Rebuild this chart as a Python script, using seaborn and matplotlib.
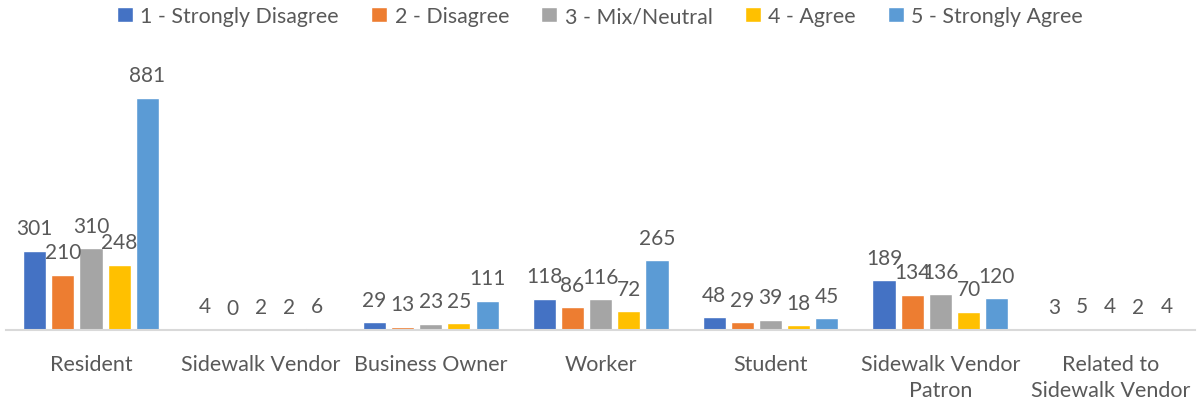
import matplotlib
matplotlib.use("Agg")
import matplotlib.pyplot as plt
import seaborn as sns
import pandas as pd

categories = ["Resident", "Sidewalk Vendor", "Business Owner", "Worker",
              "Student", "Sidewalk Vendor\nPatron", "Related to\nSidewalk Vendor"]
series = ["1 - Strongly Disagree", "2 - Disagree", "3 - Mix/Neutral",
          "4 - Agree", "5 - Strongly Agree"]
strongly_disagree = [301, 4, 29, 118, 48, 189, 3]
disagree = [210, 0, 13, 86, 29, 134, 5]
mix_neutral = [310, 2, 23, 116, 39, 136, 4]
agree = [248, 2, 25, 72, 18, 70, 2]
strongly_agree = [881, 6, 111, 265, 45, 120, 4]

colors = ["#4472C4", "#ED7D31", "#A5A5A5", "#FFC000", "#5B9BD5"]

values = [strongly_disagree, disagree, mix_neutral, agree, strongly_agree]
rows = []
for s, vals in zip(series, values):
    for c, v in zip(categories, vals):
        rows.append({"Category": c, "Response": s, "Count": v})
df = pd.DataFrame(rows)

sns.set_theme(style="white")
plt.rcParams["font.family"] = ["Lato", "DejaVu Sans"]
text_color = "#595959"

fig = plt.figure(figsize=(12, 4.06), dpi=100)
ax = fig.add_axes([0.005, 0.1847, 0.991, 0.649])

sns.barplot(data=df, x="Category", y="Count", hue="Response",
            hue_order=series, order=categories, palette=colors,
            width=0.83, gap=0.18, ax=ax, legend=True, saturation=1)

for cont in ax.containers:
    ax.bar_label(cont, fmt="%d", padding=9, fontsize=15, color=text_color)

ax.set_ylim(0, 1000)
ax.set_xlim(-0.5, len(categories) - 0.5)
ax.set_xlabel("")
ax.set_ylabel("")
ax.set_yticks([])
for side in ["left", "right", "top"]:
    ax.spines[side].set_visible(False)
ax.spines["bottom"].set_color("#D9D9D9")
ax.spines["bottom"].set_linewidth(1.5)
ax.tick_params(axis="x", length=0, pad=17, labelsize=15.5, labelcolor=text_color)
for lbl in ax.get_xticklabels():
    lbl.set_linespacing(1.4)

handles, labels = ax.get_legend_handles_labels()
ax.legend_.remove()
fig.legend(handles, labels, loc="upper center", bbox_to_anchor=(0.5, 1.03),
           ncol=5, frameon=False, fontsize=15.4, handlelength=0.75,
           handleheight=0.75, handletextpad=0.35, columnspacing=1.5,
           labelcolor=text_color)

fig.savefig("out.png", dpi=100)
